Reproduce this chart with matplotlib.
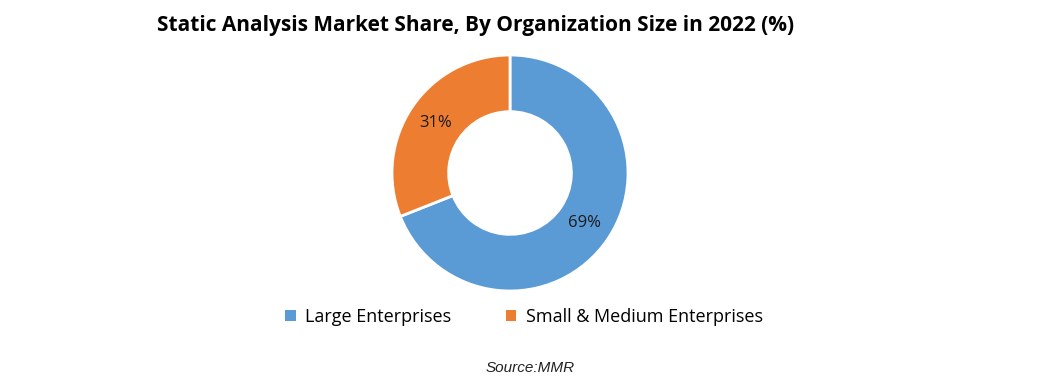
import matplotlib
matplotlib.use("Agg")
import matplotlib.pyplot as plt
from matplotlib.patches import Patch

categories = ["Large Enterprises", "Small & Medium Enterprises"]
values = [69, 31]
colors = ["#5B9BD5", "#ED7D31"]
title = "Static Analysis Market Share, By Organization Size in 2022 (%)"
source = "Source:MMR"

W, H = 1047, 388
fig = plt.figure(figsize=(W / 100, H / 100), dpi=100)

cx, cy, r = 510, 173, 118
ax = fig.add_axes([(cx - r) / W, 1 - (cy + r) / H, 2 * r / W, 2 * r / H])
wedges, texts, autotexts = ax.pie(
    values, colors=colors, startangle=90, counterclock=False,
    autopct=lambda p: f"{p:.0f}%", pctdistance=0.76,
    wedgeprops=dict(width=0.48, edgecolor="white", linewidth=2),
    textprops=dict(fontsize=12, color="#1a1a1a", family="Open Sans"),
)
ax.set_xlim(-1, 1)
ax.set_ylim(-1, 1)
ax.set_aspect("equal")
ax.axis("off")

fig.text(476 / W, 1 - 25 / H, title, ha="center", va="center",
         fontsize=15, fontweight="bold", family="Open Sans")

handles = [Patch(facecolor=c, edgecolor="none") for c in colors]
fig.legend(handles, categories, loc="center", bbox_to_anchor=(524 / W, 1 - 317 / H),
           ncol=2, frameon=False, handlelength=0.6, handleheight=0.6,
           columnspacing=3.0, handletextpad=0.5,
           prop=dict(family="Open Sans", size=13))

fig.text(530 / W, 1 - 368 / H, source, ha="center", va="center",
         fontsize=11, style="italic", family="Liberation Sans", color="#222222")

fig.savefig("out.png", dpi=100, facecolor="white")
